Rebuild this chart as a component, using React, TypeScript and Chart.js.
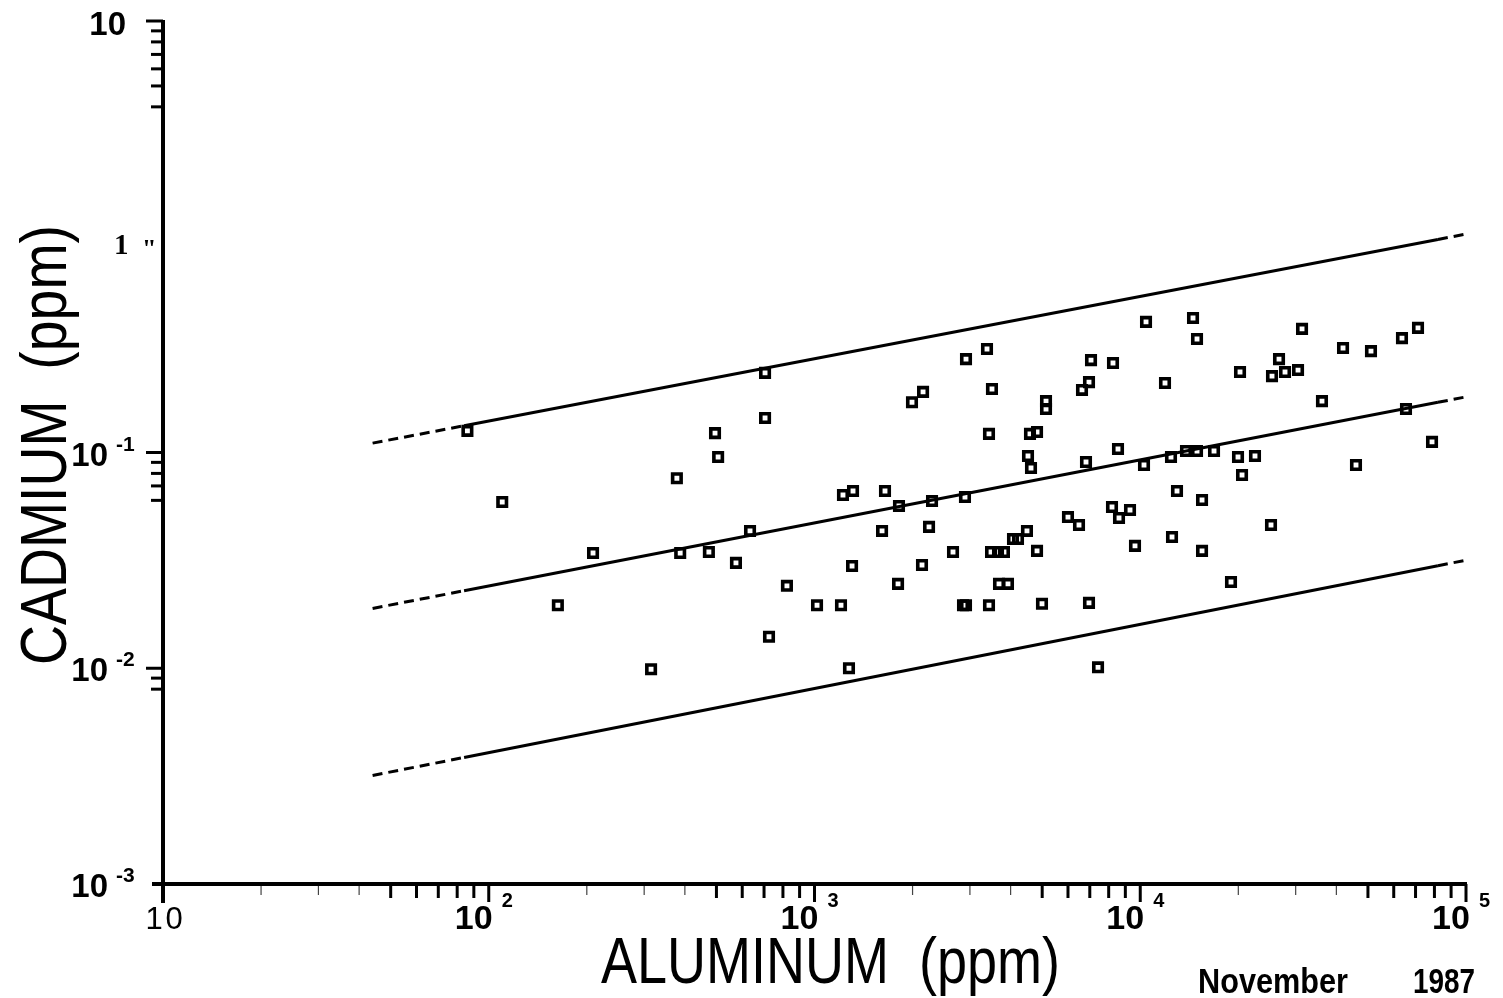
import React, { useEffect, useRef } from 'react';
import { Chart, registerables } from 'chart.js';

Chart.register(...registerables);

// ---- data (ppm) ----
const aluminumPpm = [
  86, 110, 163, 209, 315, 378, 387, 474, 495, 506,
  574, 634, 705, 705, 725, 823, 1018, 1206, 1223, 1313,
  1304, 1276, 1646, 1612, 1805, 1817, 1992, 2154, 2138, 2247,
  2295, 2662, 2897, 2918, 2857, 2918, 3385, 3506, 3433, 3483,
  3433, 3659, 3816, 3685, 3926, 4068, 4214, 4490, 4523, 4587,
  4620, 4821, 4821, 4993, 5137, 5137, 6000, 6486, 6625, 6815,
  6961, 6961, 7061, 7420, 8190, 8248, 8606, 8545, 9302, 9636,
  10416, 10269, 11912, 12428, 12517, 12967, 13818, 14521, 14937, 14937,
  15476, 15476, 16845, 18993, 19958, 20244, 20533, 22503, 25200, 25378,
  26669, 27824, 30505, 31380, 36131, 41928, 45951, 51089, 63604, 65432,
  71235, 78650,
];
const cadmiumPpm = [
  0.126, 0.059, 0.0196, 0.0342, 0.0099, 0.076, 0.0342, 0.0346, 0.123, 0.0953,
  0.0308, 0.0433, 0.234, 0.1445, 0.014, 0.0241, 0.0196, 0.0196, 0.0635, 0.0663,
  0.0298, 0.01, 0.0663, 0.0433, 0.0246, 0.0565, 0.171, 0.191, 0.0301, 0.0452,
  0.0596, 0.0346, 0.0622, 0.271, 0.0196, 0.0196, 0.302, 0.197, 0.122, 0.0346,
  0.0196, 0.0346, 0.0346, 0.0246, 0.0246, 0.0397, 0.0397, 0.0433, 0.0963, 0.122,
  0.0848, 0.1245, 0.035, 0.0199, 0.173, 0.159, 0.0502, 0.0461, 0.195, 0.0904,
  0.212, 0.0201, 0.268, 0.0101, 0.0559, 0.26, 0.0497, 0.1038, 0.0541, 0.0369,
  0.403, 0.0875, 0.21, 0.0953, 0.0406, 0.0663, 0.1016, 0.42, 0.336, 0.1016,
  0.0602, 0.035, 0.1016, 0.0251, 0.0953, 0.236, 0.0787, 0.0963, 0.0461, 0.226,
  0.271, 0.236, 0.241, 0.374, 0.173, 0.305, 0.0875, 0.295, 0.339, 0.159,
  0.378, 0.112,
];

// regression lines: dashed extrapolation / solid / dashed extrapolation
const lineAluminum = [44, 84, 82000, 100000];
const upperLine = [0.1105, 0.1331, 0.972, 1.029];
const middleLine = [0.01894, 0.02287, 0.1708, 0.181];
const lowerLine = [0.003184, 0.003859, 0.02987, 0.03168];

// axis ticks and labels
const xDecades = [10, 100, 1000, 10000, 100000];
const xExponents = ['', '2', '3', '4', '5'];
const xMinorMultipliers = [2, 3, 4, 5, 6, 7, 8, 9];
const yLabelValues = [10, 1, 0.1, 0.01, 0.001];
const yLabelBases = ['10', '1', '10', '10', '10'];
const yLabelExponents = ['', '"', '-1', '-2', '-3'];
const yMajorTicks = [10, 0.1, 0.01];
const yMinorTicks = [9, 8, 7, 6, 5, 4, 0.09, 0.08, 0.07, 0.06, 0.009, 0.008];

const xTitle = 'ALUMINUM  (ppm)';
const yTitle = 'CADMIUM  (ppm)';
const dateNoteMonth = 'November';
const dateNoteYear = '1987';

const SANS = '"Liberation Sans", Arial, Helvetica, sans-serif';
const SERIF = '"Liberation Serif", "Times New Roman", serif';

function fitText(ctx: CanvasRenderingContext2D, text: string, width: number) {
  const w = ctx.measureText(text).width;
  return width / w;
}

const paperAxes = {
  id: 'paperAxes',
  afterDraw(chart: any) {
    const ctx: CanvasRenderingContext2D = chart.ctx;
    const xs = chart.scales.x;
    const ys = chart.scales.y;
    const left = xs.getPixelForValue(10);
    const right = xs.getPixelForValue(100000);
    const top = ys.getPixelForValue(10);
    const bottom = ys.getPixelForValue(0.001);
    const seg = (x1: number, y1: number, x2: number, y2: number) => {
      ctx.beginPath();
      ctx.moveTo(x1, y1);
      ctx.lineTo(x2, y2);
      ctx.stroke();
    };
    ctx.save();
    ctx.strokeStyle = '#000';
    ctx.fillStyle = '#000';
    ctx.lineCap = 'butt';

    // axis lines
    ctx.lineWidth = 4;
    seg(left - 11, bottom, right + 1, bottom);
    seg(left, top - 1, left, bottom + 19);

    // x ticks
    xDecades.forEach((d, i) => {
      const px = xs.getPixelForValue(d);
      if (i > 0) {
        ctx.lineWidth = 3;
        ctx.strokeStyle = '#000';
        seg(px, bottom, px, bottom + 18);
      }
      if (d < 100000) {
        xMinorMultipliers.forEach((m) => {
          const p = xs.getPixelForValue(d * m);
          if (m <= 4) {
            ctx.lineWidth = 1.2;
            ctx.strokeStyle = '#444';
            seg(p, bottom + 2, p, bottom + 11);
          } else {
            ctx.lineWidth = 3;
            ctx.strokeStyle = '#000';
            seg(p, bottom + 2, p, bottom + 14);
          }
        });
      }
    });

    // y ticks
    ctx.strokeStyle = '#000';
    ctx.lineWidth = 3;
    yMajorTicks.forEach((v) => {
      const py = ys.getPixelForValue(v);
      seg(left - 17, py, left, py);
    });
    yMinorTicks.forEach((v) => {
      const py = ys.getPixelForValue(v);
      seg(left - 12, py, left, py);
    });

    // x tick labels
    ctx.textBaseline = 'alphabetic';
    xDecades.forEach((d, i) => {
      const px = xs.getPixelForValue(d);
      if (i === 0) {
        ctx.font = `normal 31px ${SANS}`;
        ctx.textAlign = 'center';
        ctx.fillText('1', px - 9, bottom + 45);
        ctx.fillText('0', px + 11, bottom + 45);
        return;
      }
      ctx.font = `bold 34px ${SANS}`;
      ctx.textAlign = 'center';
      const cx = px - 15;
      ctx.fillText('10', cx, bottom + 45);
      ctx.font = `bold 20px ${SANS}`;
      ctx.textAlign = 'left';
      ctx.fillText(xExponents[i], cx + 28, bottom + 23);
    });

    // y tick labels
    yLabelValues.forEach((v, i) => {
      const py = ys.getPixelForValue(v);
      const base = yLabelBases[i];
      const exp = yLabelExponents[i];
      if (v === 10) {
        ctx.font = `bold 33px ${SANS}`;
        ctx.textAlign = 'right';
        ctx.fillText(base, left - 37, py + 14);
        return;
      }
      if (v === 1) {
        ctx.font = `bold 29px ${SERIF}`;
        ctx.textAlign = 'left';
        ctx.fillText(base, left - 49, py + 17);
        ctx.font = `bold 26px ${SERIF}`;
        ctx.fillText(exp, left - 21, py + 20);
        return;
      }
      ctx.font = `bold 33px ${SANS}`;
      ctx.textAlign = 'right';
      ctx.fillText(base, left - 55, py + 13);
      ctx.font = `bold 21px ${SANS}`;
      ctx.textAlign = 'left';
      ctx.fillText(exp, left - 47, py - 2);
    });

    // axis titles (condensed sans)
    ctx.font = `normal 64px ${SANS}`;
    ctx.textAlign = 'left';
    let s = fitText(ctx, xTitle, 459);
    ctx.save();
    ctx.translate(601, 983);
    ctx.scale(s, 1);
    ctx.fillText(xTitle, 0, 0);
    ctx.restore();

    s = fitText(ctx, yTitle, 440);
    ctx.save();
    ctx.translate(66, 665);
    ctx.rotate(-Math.PI / 2);
    ctx.scale(s, 1);
    ctx.fillText(yTitle, 0, 0);
    ctx.restore();

    // date note
    ctx.font = `bold 35px ${SANS}`;
    s = fitText(ctx, dateNoteMonth, 150);
    ctx.save();
    ctx.translate(1198, 993);
    ctx.scale(s, 1);
    ctx.fillText(dateNoteMonth, 0, 0);
    ctx.restore();
    s = fitText(ctx, dateNoteYear, 62);
    ctx.save();
    ctx.translate(1413, 993);
    ctx.scale(s, 1);
    ctx.fillText(dateNoteYear, 0, 0);
    ctx.restore();

    ctx.restore();
  },
};

function lineDataset(ys: number[]) {
  return {
    data: lineAluminum.map((x, i) => ({ x, y: ys[i] })),
    showLine: true,
    borderColor: '#000',
    borderWidth: 3,
    pointRadius: 0,
    fill: false,
    tension: 0,
    segment: {
      borderDash: (c: any) => (c.p0DataIndex === 1 ? undefined : [10, 6]),
    },
  };
}

export default function App() {
  const canvasRef = useRef<HTMLCanvasElement | null>(null);

  useEffect(() => {
    const canvas = canvasRef.current;
    if (!canvas) return;
    const chart = new Chart(canvas, {
      type: 'scatter',
      data: {
        datasets: [
          {
            data: aluminumPpm.map((x, i) => ({ x, y: cadmiumPpm[i] })),
            pointStyle: 'rect',
            pointRadius: 6,
            pointBorderWidth: 3.6,
            pointBorderColor: '#000',
            pointBackgroundColor: 'rgba(255,255,255,0)',
            showLine: false,
          } as any,
          lineDataset(upperLine) as any,
          lineDataset(middleLine) as any,
          lineDataset(lowerLine) as any,
        ],
      },
      options: {
        responsive: false,
        animation: false,
        layout: { padding: { left: 163, right: 37, top: 21, bottom: 114 } },
        plugins: {
          legend: { display: false },
          tooltip: { enabled: false },
        },
        scales: {
          x: { type: 'logarithmic', min: 10, max: 100000, display: false },
          y: { type: 'logarithmic', min: 0.001, max: 10, display: false },
        },
      },
      plugins: [paperAxes],
    });
    return () => chart.destroy();
  }, []);

  return (
    <div style={{ position: 'fixed', left: 0, top: 0, width: 1503, height: 998, background: '#fff' }}>
      <canvas ref={canvasRef} width={1503} height={998} style={{ display: 'block' }} />
    </div>
  );
}
